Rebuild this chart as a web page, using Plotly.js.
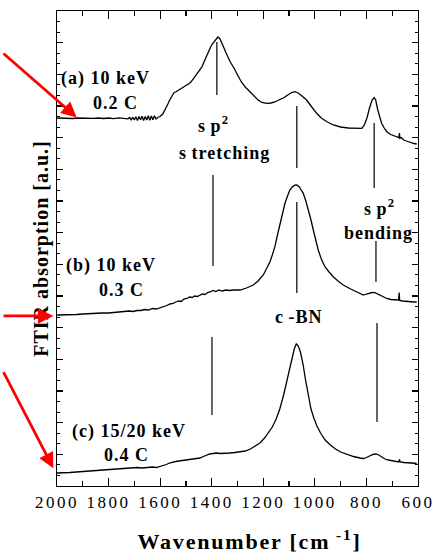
<!DOCTYPE html>
<html>
<head>
<meta charset="utf-8">
<script src="https://cdn.plot.ly/plotly-3.0.1.min.js"></script>
<style>
  html, body { margin: 0; padding: 0; background: #fff; }
  #chart { width: 435px; height: 556px; }
  .annotation-text { letter-spacing: 1px; }
  .xtick text { letter-spacing: 2.5px; }
  .g-xtitle text { letter-spacing: 1.8px; }
  .g-xtitle { transform: translate(12px, 1px); }
  .g-ytitle text { letter-spacing: 1px; }
</style>
</head>
<body>
<div id="chart"></div>
<script>
// ---- Data ----
// Wavenumber [cm^-1] and FTIR absorption [a.u.] (offset spectra)
const wnA = [2000,1980,1960,1940,1920,1900,1880,1860,1840,1820,1800,1780,1760,1740,1725,1718,1712,1706,1700,1694,1688,1682,1676,1670,1664,1658,1652,1646,1640,1634,1628,1622,1616,1608,1600,1590,1582,1576,1570,1564,1558,1552,1546,1540,1534,1528,1522,1516,1510,1504,1498,1492,1486,1480,1474,1468,1462,1456,1450,1444,1438,1430,1422,1414,1406,1398,1390,1383,1376,1369,1362,1354,1346,1338,1328,1316,1300,1285,1270,1251,1235,1220,1205,1187,1170,1155,1140,1122,1105,1090,1077,1065,1050,1032,1015,993,975,955,928,900,870,840,818,808,798,788,778,770,764,756,748,741,731,721,706,690,680,674,672,670,665,655,645,635,625,615,605];
const absA = [36.80,36.77,36.80,36.75,36.80,36.78,36.82,36.76,36.80,36.75,36.80,36.74,36.82,36.77,36.72,36.86,36.62,36.88,36.60,36.92,36.55,36.95,36.62,36.98,36.55,36.95,36.60,37.02,36.58,37.00,36.62,37.02,36.70,36.88,36.95,37.20,37.55,37.85,38.20,38.55,38.85,39.15,39.35,39.40,39.50,39.55,39.70,39.72,39.85,39.92,40.05,40.12,40.28,40.42,40.62,40.80,41.02,41.22,41.45,41.65,41.90,42.40,42.90,43.30,43.80,44.20,44.50,44.75,44.90,44.75,44.40,43.90,43.40,42.90,42.40,41.90,41.10,40.40,39.90,39.40,38.90,38.60,38.35,38.27,38.30,38.40,38.60,38.80,39.10,39.35,39.43,39.30,39.00,38.60,38.00,37.27,36.80,36.45,36.10,35.90,35.80,35.75,35.77,36.10,36.80,37.80,38.60,38.85,38.60,37.60,36.80,36.27,35.80,35.43,35.15,35.00,34.90,34.85,35.30,34.77,34.85,34.60,34.50,34.40,34.35,34.25,34.20];

const wnB = [2000,1975,1950,1925,1900,1875,1850,1825,1800,1780,1760,1740,1720,1705,1690,1675,1660,1645,1630,1615,1600,1585,1574,1562,1550,1540,1528,1518,1508,1496,1486,1476,1466,1456,1446,1436,1426,1416,1406,1395,1384,1372,1360,1345,1330,1315,1290,1265,1239,1220,1200,1187,1174,1165,1155,1145,1135,1125,1116,1106,1097,1088,1078,1070,1060,1053,1045,1035,1025,1015,1006,997,987,975,961,945,929,910,890,865,838,820,812,800,790,778,767,757,745,733,721,705,690,680,675,673,671,660,645,630,615,605];
const absB = [17.10,17.10,17.15,17.15,17.20,17.25,17.25,17.30,17.30,17.35,17.40,17.40,17.50,17.45,17.55,17.55,17.65,17.60,17.75,17.70,17.80,17.95,18.05,18.20,18.25,18.40,18.50,18.45,18.70,18.75,18.90,18.85,19.00,18.95,19.10,19.20,19.15,19.35,19.40,19.55,19.45,19.60,19.50,19.60,19.55,19.60,19.60,19.80,20.10,20.50,21.10,21.70,22.43,23.10,23.93,25.10,26.27,27.40,28.27,29.00,29.60,29.90,30.08,30.10,29.90,29.60,29.27,28.50,27.60,26.60,25.60,24.60,23.60,22.70,21.93,21.40,20.93,20.50,20.10,19.75,19.43,19.20,19.10,19.20,19.30,19.35,19.33,19.20,19.00,18.85,18.75,18.65,18.60,18.55,18.60,19.35,18.55,18.50,18.45,18.45,18.40,18.40];

const wnC = [2000,1975,1950,1925,1900,1875,1850,1825,1800,1775,1750,1730,1705,1690,1670,1650,1630,1615,1600,1588,1576,1564,1552,1540,1528,1516,1504,1490,1476,1462,1446,1432,1420,1408,1395,1380,1365,1350,1330,1310,1291,1270,1250,1230,1213,1195,1180,1165,1150,1136,1122,1110,1098,1088,1080,1072,1064,1056,1046,1036,1026,1015,1004,992,978,960,940,920,900,875,850,825,812,800,788,775,763,752,740,728,715,700,685,675,672,669,655,640,625,605];
const absC = [1.30,1.30,1.35,1.40,1.45,1.50,1.55,1.55,1.60,1.65,1.70,1.80,1.80,1.85,1.80,1.85,1.90,1.85,1.95,2.05,2.15,2.30,2.40,2.45,2.50,2.55,2.60,2.65,2.70,2.75,2.80,2.95,3.10,3.20,3.25,3.30,3.25,3.30,3.30,3.35,3.40,3.50,3.70,4.00,4.30,4.80,5.30,5.90,6.70,7.70,9.00,10.30,11.80,12.90,13.70,14.20,14.00,13.40,12.20,10.60,9.00,7.70,6.80,6.00,5.30,4.60,4.10,3.70,3.40,3.15,2.95,2.80,2.75,2.85,3.00,3.15,3.20,3.10,2.90,2.70,2.60,2.55,2.45,2.40,2.65,2.40,2.35,2.35,2.30,2.25];

// Peak marker lines (wavenumber, lower and upper a.u.)
const markWn = [1380, 1395, 1399, 1070, 1070, 770, 763, 759];
const markLo = [39.1, 22.0, 7.1, 31.8, 19.3, 29.8, 20.4, 6.4];
const markHi = [44.4, 31.1, 14.9, 38.0, 28.4, 36.3, 24.5, 16.3];

// Text labels
const labelText = ['(a) 10 keV', '0.2 C', '(b) 10 keV', '0.3 C', '(c) 15/20 keV', '0.4 C',
                   's\u2009p<sup>2</sup>', 's\u2009tretching', 'c\u2009-BN', 's\u2009p<sup>2</sup>', 'bending'];
const labelWn  = [1810, 1775, 1791, 1748, 1721, 1729, 1393, 1352, 1062, 749, 755];
const labelAbs = [40.8, 38.3, 22.1, 19.6, 5.5, 3.1, 36.2, 33.3, 16.9, 27.9, 25.3];

const FONT = 'Liberation Serif, Times New Roman, serif';

const line = {color: '#000', width: 1.3};
const traces = [
  {x: wnA, y: absA, mode: 'lines', line: line, hoverinfo: 'skip'},
  {x: wnB, y: absB, mode: 'lines', line: line, hoverinfo: 'skip'},
  {x: wnC, y: absC, mode: 'lines', line: line, hoverinfo: 'skip'}
];

const shapes = markWn.map((w, i) => ({
  type: 'line', xref: 'x', yref: 'y', x0: w, x1: w, y0: markLo[i], y1: markHi[i],
  line: {color: '#000', width: 1.2}
}));

const annotations = labelText.map((t, i) => ({
  text: t, x: labelWn[i], y: labelAbs[i], xref: 'x', yref: 'y', showarrow: false,
  font: {family: FONT, size: 18, color: '#000', weight: 'bold'}
}));

// Red arrows pointing at the three spectra baselines
const arrowTips = [[0.0546, 0.776, -100, -67], [-0.0102, 0.358, -70, 0], [-0.0102, 0.0373, -70, -103]];
arrowTips.forEach(a => annotations.push({
  text: ' ', x: a[0], y: a[1], xref: 'paper', yref: 'paper', ax: a[2], ay: a[3],
  showarrow: true, arrowhead: 2, arrowsize: 1.1, arrowwidth: 2.8, arrowcolor: '#ff0000', standoff: 0
}));

const MAJ = 47.5 / 15;
const layout = {
  width: 435, height: 556,
  margin: {l: 57, r: 17, t: 11, b: 70},
  paper_bgcolor: '#fff', plot_bgcolor: '#fff',
  showlegend: false,
  font: {family: FONT, color: '#000'},
  xaxis: {
    range: [2000, 600], tick0: 0, dtick: 200,
    ticks: 'inside', ticklen: 8, tickwidth: 1.2, tickcolor: '#000',
    minor: {dtick: 100, ticks: 'inside', ticklen: 5, tickwidth: 1.2, tickcolor: '#000'},
    mirror: 'allticks', showline: true, linecolor: '#000', linewidth: 1.2,
    showgrid: false, zeroline: false,
    tickfont: {family: FONT, size: 17, color: '#000'},
    title: {text: 'Wavenumber [cm<sup> -1</sup>]', standoff: 22,
            font: {family: FONT, size: 22, color: '#000', weight: 'bold'}}
  },
  yaxis: {
    range: [0, 47.5], tick0: 0, dtick: MAJ, showticklabels: false,
    ticks: 'inside', ticklen: 6, tickwidth: 1.2, tickcolor: '#000',
    minor: {dtick: MAJ / 3, ticks: 'inside', ticklen: 3, tickwidth: 1.2, tickcolor: '#000'},
    mirror: 'allticks', showline: true, linecolor: '#000', linewidth: 1.2,
    showgrid: false, zeroline: false,
    title: {text: 'FTIR absorption [a.u.]', standoff: 1,
            font: {family: FONT, size: 20, color: '#000', weight: 'bold'}}
  },
  shapes: shapes,
  annotations: annotations
};

Plotly.newPlot('chart', traces, layout, {displayModeBar: false, staticPlot: true});
</script>
</body>
</html>
